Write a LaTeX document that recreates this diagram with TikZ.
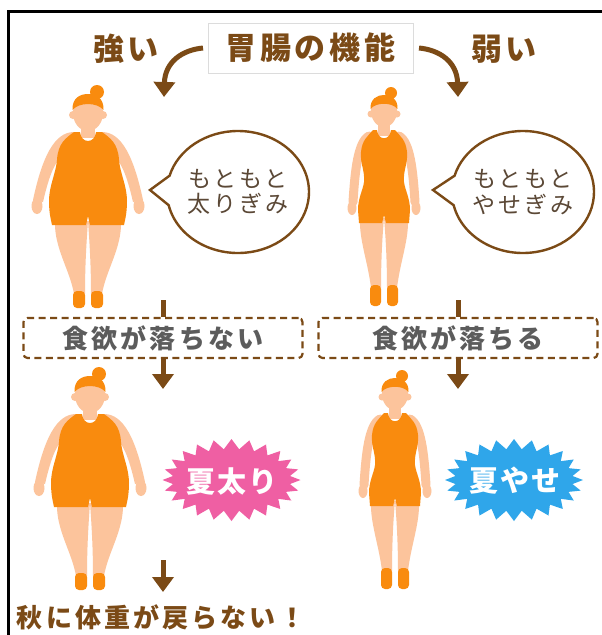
\documentclass[tikz,border=0pt]{standalone}
\usepackage{fontspec}
\newfontfamily\jp{Noto Sans CJK JP}[LetterSpace=12]
\newfontfamily\jpn{Noto Sans CJK JP}[LetterSpace=8]
\usetikzlibrary{arrows.meta,shapes.callouts}

\definecolor{brn}{HTML}{7B4A16}
\definecolor{orc}{HTML}{F98B0E}
\definecolor{skinc}{HTML}{FCC49C}
\definecolor{pinkc}{HTML}{EF5FA3}
\definecolor{bluec}{HTML}{2FA6EA}
\definecolor{graytxt}{HTML}{5C5C5C}
\definecolor{bubtxt}{HTML}{5B4836}
\definecolor{boxline}{HTML}{DCDCDC}

\tikzset{
  conn/.style={draw=brn, line width=5pt},
  tipd/.style={-{Triangle[width=21pt,length=15pt]}},
  headline/.style={text=brn, font=\jp\bfseries\fontsize{31}{36}\selectfont, inner sep=0pt},
  titlebox/.style={draw=boxline, line width=1pt, fill=white, minimum width=205pt,
    minimum height=50pt, inner sep=0pt, text=brn, font=\jp\bfseries\fontsize{31}{36}\selectfont},
  bubble/.style={ellipse callout, draw=brn, line width=2.4pt, fill=white,
    minimum width=142pt, minimum height=122pt, callout pointer arc=28, inner sep=0pt,
    align=center, text=bubtxt, font=\jp\fontsize{23}{25.5}\selectfont},
  dbox/.style={draw=brn, line width=2.2pt, dash pattern=on 7pt off 4.5pt, rounded corners=4pt,
    minimum width=279pt, minimum height=40pt, inner sep=0pt, text=graytxt,
    font=\jp\bfseries\fontsize{26}{30}\selectfont},
  bursttext/.style={text=white, inner sep=0pt, font=\jpn\bfseries\fontsize{29}{32}\selectfont},
  slimgirl/.pic={
    % legs
    \fill[skinc] (-24,128) .. controls (-25,150) and (-16,172) .. (-13,198) -- (-3,198)
      .. controls (-3,175) and (-2,150) .. (0,128) -- cycle;
    \fill[skinc] (24,128) .. controls (25,150) and (16,172) .. (13,198) -- (3,198)
      .. controls (3,175) and (2,150) .. (0,128) -- cycle;
    % shoes
    \fill[orc, rounded corners=4pt] (-14,195) rectangle (-3,216);
    \fill[orc, rounded corners=4pt] (3,195) rectangle (14,216);
    % arms and hands
    \draw[skinc, line width=9pt, line cap=round] (-15,46) .. controls (-26,52) and (-29,80) .. (-31,112);
    \draw[skinc, line width=9pt, line cap=round] (15,46) .. controls (26,52) and (29,80) .. (31,112);
    \fill[skinc] (-32,118) ellipse (4.5 and 7);
    \fill[skinc] (32,118) ellipse (4.5 and 7);
    % neck
    \fill[skinc] (-6,28) rectangle (6,46);
    % swimsuit
    \fill[orc] (-11,40) -- (-7,40) .. controls (-6,51) and (6,51) .. (7,40) -- (11,40)
      .. controls (16,46) and (22,50) .. (23,62) .. controls (24,74) and (19,80) .. (20,92)
      .. controls (21,100) and (26,108) .. (26,120) -- (25,133) -- (2,133) -- (0,125)
      -- (-2,133) -- (-25,133) -- (-26,120) .. controls (-26,108) and (-21,100) .. (-20,92)
      .. controls (-19,80) and (-24,74) .. (-23,62) .. controls (-22,50) and (-16,46) .. (-11,40) -- cycle;
    % head
    \fill[skinc] (-13,24) circle (3.5) (13,24) circle (3.5);
    \fill[skinc] (0,21) ellipse (13 and 16);
    % hair and bun
    \fill[orc] (-13.5,19) .. controls (-14,9) and (-7,5) .. (0,5) .. controls (7,5) and (14,9) .. (13.5,19)
      .. controls (8,12) and (-8,12) .. (-13.5,19) -- cycle;
    \fill[orc] (7,3) circle (6);
  },
  fatgirl/.pic={
    % legs
    \fill[skinc] (-33,133) .. controls (-34,160) and (-18,182) .. (-14,206) -- (-3,206)
      .. controls (-3,182) and (-2,160) .. (0,133) -- cycle;
    \fill[skinc] (33,133) .. controls (34,160) and (18,182) .. (14,206) -- (3,206)
      .. controls (3,182) and (2,160) .. (0,133) -- cycle;
    % shoes
    \fill[orc, rounded corners=4pt] (-15,203) rectangle (-3,220);
    \fill[orc, rounded corners=4pt] (3,203) rectangle (15,220);
    % arms and hands
    \fill[skinc] (-14,44) .. controls (-34,44) and (-46,70) .. (-55,112) -- (-45,114)
      .. controls (-40,92) and (-35,78) .. (-28,70) -- cycle;
    \fill[skinc] (14,44) .. controls (34,44) and (46,70) .. (55,112) -- (45,114)
      .. controls (40,92) and (35,78) .. (28,70) -- cycle;
    \fill[skinc] (-51,118) ellipse (5.5 and 8);
    \fill[skinc] (51,118) ellipse (5.5 and 8);
    % neck
    \fill[skinc] (-7,32) rectangle (7,50);
    % swimsuit
    \fill[orc] (-14,44) -- (-8,44) .. controls (-7,56) and (7,56) .. (8,44) -- (14,44)
      .. controls (22,50) and (30,55) .. (31,72) .. controls (32,85) and (39,98) .. (39,113)
      .. controls (39,125) and (37,132) .. (36,137) -- (2,137) -- (0,128) -- (-2,137) -- (-36,137)
      .. controls (-37,132) and (-39,125) .. (-39,113) .. controls (-39,98) and (-32,85) .. (-31,72)
      .. controls (-30,55) and (-22,50) .. (-14,44) -- cycle;
    % head
    \fill[skinc] (-15,27) circle (4) (15,27) circle (4);
    \fill[skinc] (0,25) ellipse (15 and 18);
    % hair and bun
    \fill[orc] (-15.5,22) .. controls (-16,10) and (-8,6) .. (0,6) .. controls (8,6) and (16,10) .. (15.5,22)
      .. controls (9,14) and (-9,14) .. (-15.5,22) -- cycle;
    \fill[orc] (9,4) circle (7);
  }
}

\begin{document}
\begin{tikzpicture}[x=1pt, y=-1pt]
  % canvas and frame
  \fill[white] (0,0) rectangle (602,635);
  \useasboundingbox (0,0) rectangle (602,635);
  \draw[black, line width=2.4pt] (602,11.5) -- (8.5,11.5) -- (8.5,635);

  % heading
  \node[titlebox] (title) at (310.5,48) {胃腸の機能};
  \node[headline] (strong) at (126,49) {強い};
  \node[headline] (weak) at (504,49) {弱い};
  \coordinate (tl) at (203,48);
  \coordinate (tlend) at (164,97);
  \coordinate (tr) at (419,48);
  \coordinate (trend) at (458,97);
  \draw[conn, tipd] (tl) .. controls (182,50) and (165,62) .. (tlend);
  \draw[conn, tipd] (tr) .. controls (440,50) and (457,62) .. (trend);

  % figures
  \pic at (88,88) {fatgirl};
  \pic at (384,90) {slimgirl};
  \begin{scope}[shift={(90,370)}, xscale=1.25, yscale=1.02]
    \pic {fatgirl};
  \end{scope}
  \begin{scope}[shift={(395,373)}, scale=1.05]
    \pic {slimgirl};
  \end{scope}

  % speech bubbles
  \node[bubble, callout absolute pointer={(150,190)}] (bubL) at (238,192) {もともと\\太りぎみ};
  \node[bubble, callout absolute pointer={(433,190)}] (bubR) at (523,192) {もともと\\やせぎみ};

  % appetite boxes
  \node[dbox] (boxL) at (163,338) {食欲が落ちない};
  \node[dbox] (boxR) at (458,338) {食欲が落ちる};
  \coordinate (lt) at (163,300);
  \coordinate (rt) at (458,300);
  \coordinate (lb) at (163,389);
  \coordinate (rb) at (458,389);
  \draw[conn] (lt) -- (boxL.north);
  \draw[conn] (rt) -- (boxR.north);
  \draw[conn, tipd] (boxL.south) -- (lb);
  \draw[conn, tipd] (boxR.south) -- (rb);

  % starbursts
  \fill[pinkc] plot[samples at={0,...,47}, variable=\k]
    ({231.5+(69-10*mod(\k,2))*cos(\k*7.5)}, {480+(41-10*mod(\k,2))*sin(\k*7.5)}) -- cycle;
  \node[bursttext] (summerL) at (232,481) {夏太り};
  \fill[bluec] plot[samples at={0,...,47}, variable=\k]
    ({514+(69-10*mod(\k,2))*cos(\k*7.5)}, {480+(41-10*mod(\k,2))*sin(\k*7.5)}) -- cycle;
  \node[bursttext] (summerR) at (515,481) {夏やせ};

  % autumn outcome
  \node[headline, font=\jp\bfseries\fontsize{26}{30}\selectfont] (autumn) at (161,617) {秋に体重が戻らない！};
  \coordinate (la) at (163,560);
  \coordinate (lz) at (163,592);
  \draw[conn, tipd] (la) -- (lz);
\end{tikzpicture}
\end{document}
